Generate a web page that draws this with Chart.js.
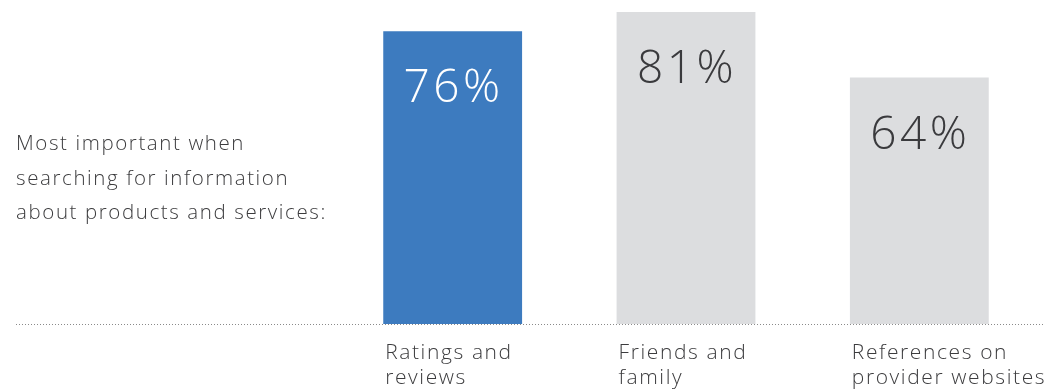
<!DOCTYPE html>
<html>
<head>
<meta charset="utf-8">
<script src="https://cdn.jsdelivr.net/npm/chart.js@4.4.1/dist/chart.umd.min.js"></script>
<style>
  html, body { margin: 0; padding: 0; background: #fff; }
  #wrap { position: relative; width: 1049px; height: 390px; }
  #intro {
    position: absolute; left: 16px; top: 125px; width: 330px;
    font-family: "Open Sans", sans-serif; font-weight: 300; font-size: 20.5px;
    letter-spacing: 1.6px; line-height: 34.5px; color: #3c3c3e;
  }
</style>
</head>
<body>
<div id="wrap">
  <canvas id="chart" width="1049" height="390"></canvas>
  <div id="intro">Most important when<br>searching for information<br>about products and services:</div>
</div>
<script>
// data
const categories = [['Ratings and', 'reviews'], ['Friends and', 'family'], ['References on', 'provider websites']];
const values = [76, 81, 64];
const barColors = ['#3d7bbf', '#dcdddf', '#dcdddf'];
const labelColors = ['#ffffff', '#3a3a3d', '#3a3a3d'];

const FONT = '"Open Sans", sans-serif';

// big percentage inside each bar + dotted baseline
const barLabels = {
  id: 'barLabels',
  beforeDraw(chart) {
    // the reference font is wider than anything installed
    chart.ctx.letterSpacing = '1.6px';
  },
  afterDatasetsDraw(chart) {
    const ctx = chart.ctx;
    const meta = chart.getDatasetMeta(0);
    const y0 = chart.scales.y.getPixelForValue(0);

    ctx.save();
    ctx.strokeStyle = '#8a8a8a';
    ctx.lineWidth = 1;
    ctx.setLineDash([1, 2]);
    ctx.beginPath();
    ctx.moveTo(16, y0 + 0.5);
    ctx.lineTo(1043, y0 + 0.5);
    ctx.stroke();
    ctx.restore();

    ctx.save();
    ctx.font = '300 46px ' + FONT;
    ctx.letterSpacing = '3.5px';
    ctx.textAlign = 'center';
    ctx.textBaseline = 'middle';
    meta.data.forEach((bar, i) => {
      ctx.fillStyle = labelColors[i];
      ctx.fillText(values[i] + '%', bar.x + 1, bar.y + 58);
    });
    ctx.restore();
  }
};

new Chart(document.getElementById('chart'), {
  type: 'bar',
  data: {
    labels: categories,
    datasets: [{
      data: values,
      backgroundColor: barColors,
      borderWidth: 0,
      barPercentage: 0.595,
      categoryPercentage: 1
    }]
  },
  options: {
    responsive: false,
    animation: false,
    layout: { padding: { left: 336, right: 13, top: 12, bottom: 0 } },
    plugins: { legend: { display: false }, tooltip: { enabled: false } },
    scales: {
      y: { display: false, min: 0, max: 81 },
      x: {
        grid: { display: false, drawTicks: false },
        border: { display: false },
        afterFit(scale) {
          scale.height = 66;
          scale.paddingLeft = 0;
          scale.paddingRight = 0;
        },
        ticks: {
          autoSkip: false,
          maxRotation: 0,
          align: 'start',
          labelOffset: -67.5,
          padding: 16,
          color: '#3c3c3e',
          font: { family: FONT, size: 21, weight: 300, lineHeight: 1.22 }
        }
      }
    }
  },
  plugins: [barLabels]
});
</script>
</body>
</html>
